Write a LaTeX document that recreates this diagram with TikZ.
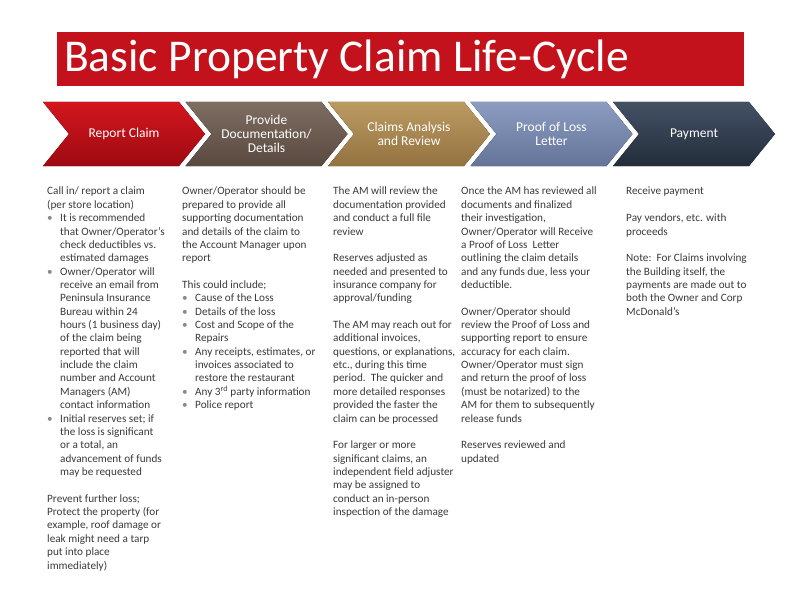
\documentclass[tikz,border=0pt]{standalone}
\usepackage{fontspec}
\setmainfont{Carlito}
\usepackage{xcolor}
\usetikzlibrary{positioning,calc}
\definecolor{tb}{HTML}{C3121B}
\definecolor{bt}{HTML}{3A3A3A}
\definecolor{bu}{HTML}{8A8A8A}
\definecolor{rdT}{HTML}{D3161E}
\definecolor{rdB}{HTML}{9E0A12}
\definecolor{brT}{HTML}{7E6D61}
\definecolor{brB}{HTML}{594940}
\definecolor{gdT}{HTML}{BC9B62}
\definecolor{gdB}{HTML}{937240}
\definecolor{blT}{HTML}{8D9DC2}
\definecolor{blB}{HTML}{647499}
\definecolor{nvT}{HTML}{435165}
\definecolor{nvB}{HTML}{232D3B}
\newcommand{\bl}{\makebox[13pt][l]{\textcolor{bu}{\textbullet}}}
\newcommand{\cn}{\hspace*{13pt}}

\begin{document}
\begin{tikzpicture}[x=1pt,y=-1pt,
  chevlbl/.style={font=\fontsize{13.5}{14}\selectfont, text=white, align=center, inner sep=0pt},
  body/.style={anchor=north west, inner sep=0pt, align=left, text=bt, font=\fontsize{11.2}{13.36}\selectfont}]
  \useasboundingbox (0,0) rectangle (800,599);

  % title bar
  \fill[tb] (57,32) rectangle (744,86);
  \node[anchor=west, text=white, font=\fontsize{45.5}{50}\selectfont, inner sep=0pt] (title) at (64,59) {Basic Property Claim Life-Cycle};

  % chevrons
  \foreach \i/\ct/\cb/\nm/\lbl in {0/rdT/rdB/report/{Report Claim},
      1/brT/brB/docs/{Provide\\Documentation/\\Details},
      2/gdT/gdB/analysis/{Claims Analysis\\and Review},
      3/blT/blB/proof/{Proof of Loss\\Letter},
      4/nvT/nvB/payment/{Payment}} {
    \pgfmathsetmacro\L{43+142.5*\i}
    \fill[top color=\ct, bottom color=\cb] (\L,102) -- ++(136,0) -- ++(26,32) -- ++(-26,32) -- ++(-136,0) -- ++(26,-32) -- cycle;
    \node[chevlbl] (\nm) at (\L+81,134) {\lbl};
  }

  % columns
  \node[body] (reporttxt) at (47,185.4) {\strut Call in/ report a claim\\
    (per store location)\\
    \bl It is recommended\\
    \cn that Owner/Operator's\\
    \cn check deductibles vs.\\
    \cn estimated damages\\
    \bl Owner/Operator will\\
    \cn receive an email from\\
    \cn Peninsula Insurance\\
    \cn Bureau within 24\\
    \cn hours (1 business day)\\
    \cn of the claim being\\
    \cn reported that will\\
    \cn include the claim\\
    \cn number and Account\\
    \cn Managers (AM)\\
    \cn contact information\\
    \bl Initial reserves set; if\\
    \cn the loss is significant\\
    \cn or a total, an\\
    \cn advancement of funds\\
    \cn may be requested\\[13.36pt]
    Prevent further loss;\\
    Protect the property (for\\
    example, roof damage or\\
    leak might need a tarp\\
    put into place\\
    immediately)};

  \node[body] (docstxt) at (182,185.4) {\strut Owner/Operator should be\\
    prepared to provide all\\
    supporting documentation\\
    and details of the claim to\\
    the Account Manager upon\\
    report\\[13.36pt]
    This could include;\\
    \bl Cause of the Loss\\
    \bl Details of the loss\\
    \bl Cost and Scope of the\\
    \cn Repairs\\
    \bl Any receipts, estimates, or\\
    \cn invoices associated to\\
    \cn restore the restaurant\\
    \bl Any 3\textsuperscript{rd} party information\\
    \bl Police report};

  \node[body] (analysistxt) at (333,185.4) {\strut The AM will review the\\
    documentation provided\\
    and conduct a full file\\
    review\\[13.36pt]
    Reserves adjusted as\\
    needed and presented to\\
    insurance company for\\
    approval/funding\\[13.36pt]
    The AM may reach out for\\
    additional invoices,\\
    questions, or explanations,\\
    etc., during this time\\
    period.\ \ The quicker and\\
    more detailed responses\\
    provided the faster the\\
    claim can be processed\\[13.36pt]
    For larger or more\\
    significant claims, an\\
    independent field adjuster\\
    may be assigned to\\
    conduct an in-person\\
    inspection of the damage};

  \node[body] (prooftxt) at (461,185.4) {\strut Once the AM has reviewed all\\
    documents and finalized\\
    their investigation,\\
    Owner/Operator will Receive\\
    a Proof of Loss\ \ Letter\\
    outlining the claim details\\
    and any funds due, less your\\
    deductible.\\[13.36pt]
    Owner/Operator should\\
    review the Proof of Loss and\\
    supporting report to ensure\\
    accuracy for each claim.\\
    Owner/Operator must sign\\
    and return the proof of loss\\
    (must be notarized) to the\\
    AM for them to subsequently\\
    release funds\\[13.36pt]
    Reserves reviewed and\\
    updated};

  \node[body] (paymenttxt) at (626,185.4) {\strut Receive payment\\[13.36pt]
    Pay vendors, etc. with\\
    proceeds\\[13.36pt]
    Note:\ \ For Claims involving\\
    the Building itself, the\\
    payments are made out to\\
    both the Owner and Corp\\
    McDonald's};
\end{tikzpicture}
\end{document}
